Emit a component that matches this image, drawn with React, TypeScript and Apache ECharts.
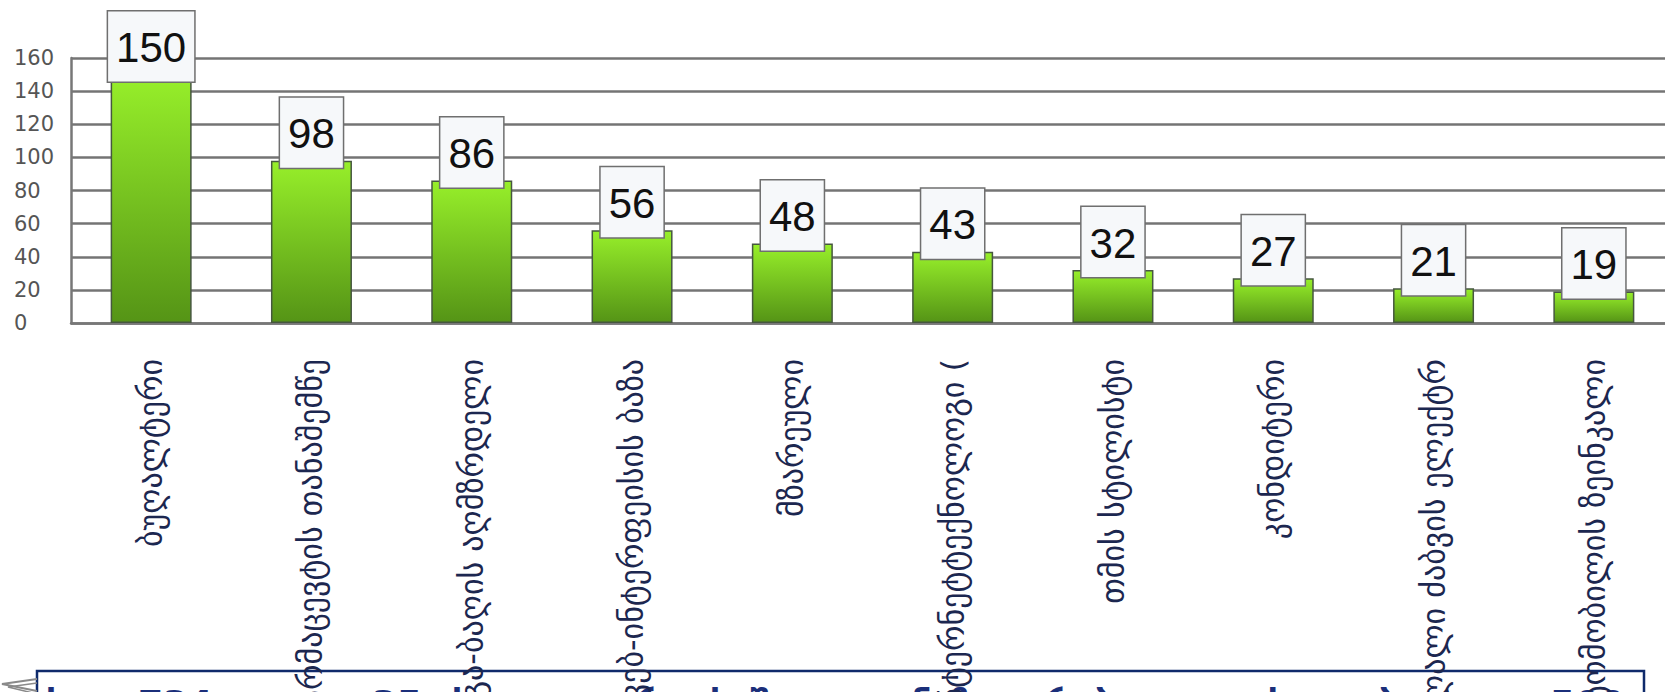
import React, { useEffect, useRef } from "react";
import * as echarts from "echarts";

const categories = [
  "ბუღალტერი",
  "ფარმაცევტის თანაშემწე",
  "ბაგა-ბაღის აღმზრდელი",
  "ვებ-ინტერფეისის ბაზა",
  "მზარეული",
  "ინტერნეტტექნოლოგი (",
  "თმის სტილისტი",
  "კონდიტერი",
  "მაღალი ძაბვის ელექტრ",
  "ავტომობილის ზეინკალი",
];
const values = [150, 98, 86, 56, 48, 43, 32, 27, 21, 19];
const yMin = 0;
const yMax = 160;
const yStep = 20;

export default function App() {
  const ref = useRef<HTMLDivElement>(null);
  useEffect(() => {
    if (!ref.current) return;
    const chart = echarts.init(ref.current, undefined, { renderer: "svg" });
    const noteFont = "bold 36px 'DejaVu Sans'";
    const noteColor = "#1b2f7a";
    const noteY = 685;
    chart.setOption({
      animation: false,
      backgroundColor: "#ffffff",
      grid: {
        left: 71,
        right: -9,
        top: 58,
        bottom: 369,
        containLabel: false,
        outerBoundsMode: "none",
      },
      xAxis: {
        type: "category",
        data: categories,
        axisLine: { show: true, lineStyle: { color: "#777777", width: 2.5 } },
        axisTick: { show: false },
        axisLabel: {
          interval: 0,
          rotate: 90,
          margin: 36,
          fontFamily: "DejaVu Sans",
          fontSize: 32,
          color: "#1c2750",
        },
      },
      yAxis: {
        type: "value",
        min: yMin,
        max: yMax,
        interval: yStep,
        axisLine: { show: true, lineStyle: { color: "#777777", width: 2.5 } },
        axisTick: { show: false },
        splitLine: { show: true, lineStyle: { color: "#747474", width: 2.5 } },
        axisLabel: {
          align: "left",
          margin: 57,
          fontFamily: "DejaVu Sans",
          fontSize: 21,
          color: "#555555",
        },
      },
      series: [
        {
          type: "bar",
          data: values,
          barWidth: 81,
          itemStyle: {
            color: new echarts.graphic.LinearGradient(0, 0, 0, 1, [
              { offset: 0, color: "#97ef2a" },
              { offset: 1, color: "#559416" },
            ]),
            borderColor: "#46573f",
            borderWidth: 1.5,
          },
          label: {
            show: true,
            position: "top",
            distance: -7,
            formatter: "{c}",
            backgroundColor: "#f6f8fa",
            borderColor: "#6f6f6f",
            borderWidth: 1.5,
            padding: [14, 8, 12, 8],
            fontSize: 42,
            lineHeight: 44,
            fontFamily: "Liberation Sans",
            color: "#111111",
          },
        },
      ],
      graphic: [
        {
          type: "rect",
          shape: { x: 37, y: 671, width: 1607, height: 40 },
          style: { fill: "none", stroke: "#0f2a6b", lineWidth: 2.5 },
          z: 0,
        },
        {
          type: "polyline",
          shape: { points: [[37, 679], [2, 684], [37, 691]] },
          style: { fill: "none", stroke: "#8a8a8a", lineWidth: 2 },
        },
        {
          type: "polyline",
          shape: { points: [[37, 683], [8, 687], [37, 694]] },
          style: { fill: "none", stroke: "#8a8a8a", lineWidth: 1.5 },
        },
        { type: "text", x: 46, y: noteY, style: { text: "სულ –", font: noteFont, fill: noteColor, verticalAlign: "top" } },
        { type: "text", x: 138, y: noteY, style: { text: "734", font: noteFont, fill: noteColor, verticalAlign: "top" } },
        { type: "text", x: 222, y: noteY, style: { text: "ადგილი,", font: noteFont, fill: noteColor, verticalAlign: "top" } },
        { type: "text", x: 372, y: noteY, style: { text: "35", font: noteFont, fill: noteColor, verticalAlign: "top" } },
        { type: "text", x: 432, y: noteY, style: { text: "ახალი კადრი, საშუალო ანაზღაურება კი დაახლოებით", font: noteFont, fill: noteColor, verticalAlign: "top" } },
        { type: "text", x: 1550, y: noteY, style: { text: "500", font: noteFont, fill: noteColor, verticalAlign: "top" } },
      ],
    });
    return () => chart.dispose();
  }, []);
  return (
    <div
      ref={ref}
      style={{ position: "absolute", left: 0, top: 0, width: 1665, height: 692 }}
    />
  );
}
